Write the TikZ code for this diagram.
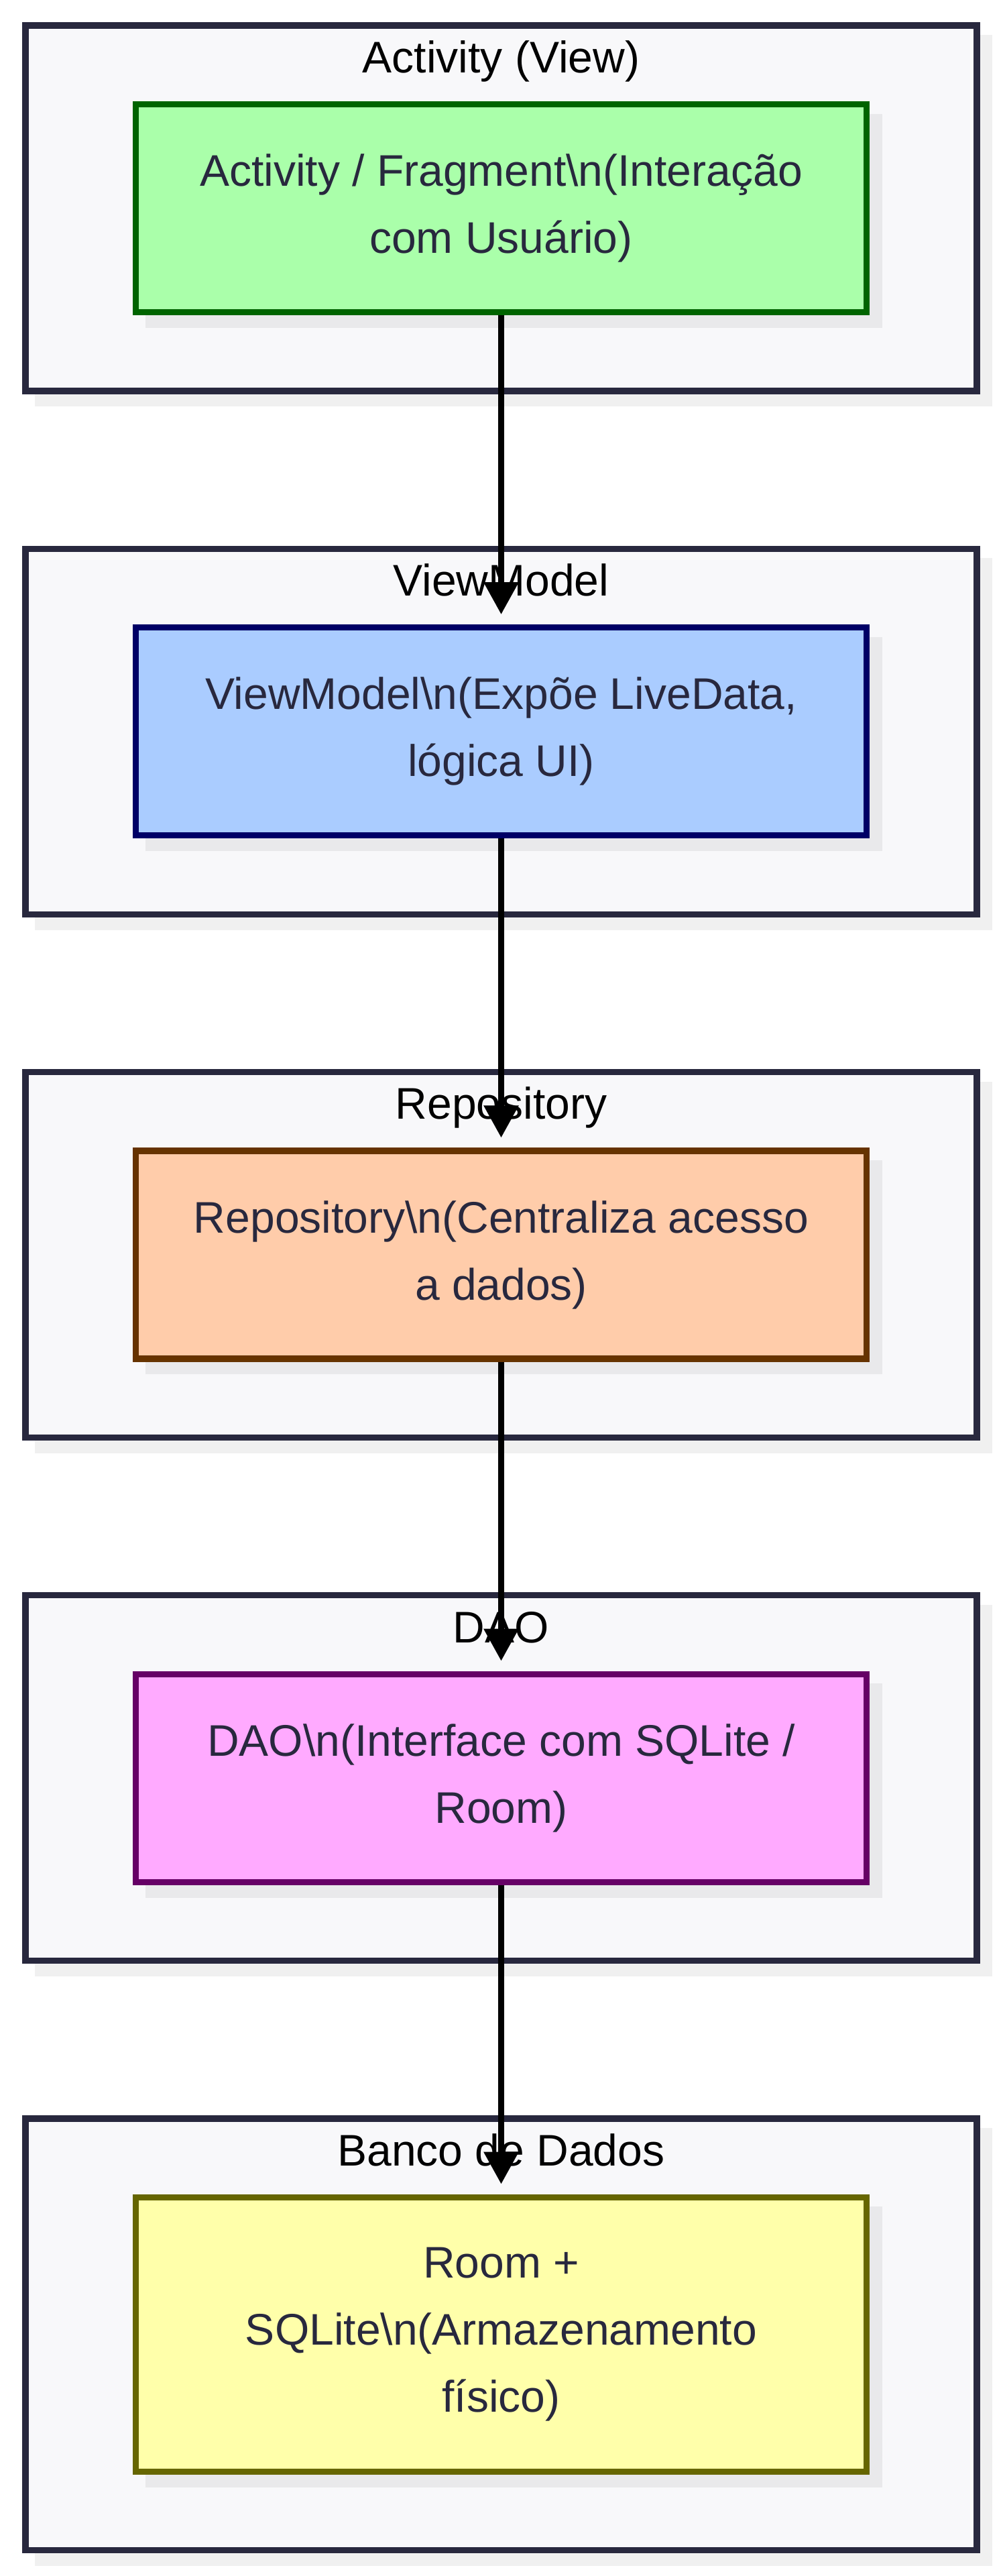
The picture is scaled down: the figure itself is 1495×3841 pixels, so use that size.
\documentclass[tikz,border=0pt]{standalone}
\usepackage{fontspec}
\setmainfont{Liberation Sans}
\usetikzlibrary{arrows.meta,calc,positioning}

\definecolor{ink}{HTML}{28283E}
\definecolor{clusterfill}{HTML}{F8F8FA}
\definecolor{clustershadow}{HTML}{F0F0F0}
\definecolor{blockshadow}{HTML}{E9E9EB}
\definecolor{viewfill}{HTML}{AAFFAA}
\definecolor{viewline}{HTML}{006400}
\definecolor{modelfill}{HTML}{AACCFF}
\definecolor{modelline}{HTML}{000066}
\definecolor{repofill}{HTML}{FFCCAA}
\definecolor{repoline}{HTML}{663300}
\definecolor{daofill}{HTML}{FFAAFF}
\definecolor{daoline}{HTML}{660066}
\definecolor{dbfill}{HTML}{FFFFAA}
\definecolor{dbline}{HTML}{666600}

\begin{document}
\begin{tikzpicture}[x=0.5pt,y=-0.5pt,
  every node/.style={align=center,font=\fontsize{33pt}{50pt}\selectfont},
  cluster/.style={draw=ink,fill=clusterfill,line width=4.65pt,minimum width=709.5pt,minimum height=272.5pt,inner sep=0pt,
    preaction={draw=clustershadow,fill=clustershadow,transform canvas={shift={(9.35pt,-9.35pt)}}}},
  block/.style={draw=#1line,fill=#1fill,text=ink,line width=4.65pt,minimum width=545pt,minimum height=155pt,inner sep=0pt,
    preaction={draw=blockshadow,fill=blockshadow,transform canvas={shift={(9.35pt,-9.35pt)}}}},
  clustertitle/.style={anchor=base,text=black},
  link/.style={-{Triangle[length=24pt,width=25pt]},line width=4.65pt,shorten >=7.5pt}]
\path [fill=white,use as bounding box] (0,0) rectangle (1495,3841);
\node [cluster] (View) at (747.5,310.5) {};
\node [clustertitle] (ViewTitle) at ($(View.north)+(0,75)$) {Activity (View)};
\node [block=view] (ViewBox) at (View) {Activity / Fragment\textbackslash n(Interação\\com Usuário)};
\node [cluster] (Model) at (747.5,1090.75) {};
\node [clustertitle] (ModelTitle) at ($(Model.north)+(0,75)$) {ViewModel};
\node [block=model] (ModelBox) at (Model) {ViewModel\textbackslash n(Expõe LiveData,\\lógica UI)};
\node [cluster] (Repo) at (747.5,1871) {};
\node [clustertitle] (RepoTitle) at ($(Repo.north)+(0,75)$) {Repository};
\node [block=repo] (RepoBox) at (Repo) {Repository\textbackslash n(Centraliza acesso\\a dados)};
\node [cluster] (Dao) at (747.5,2651.25) {};
\node [clustertitle] (DaoTitle) at ($(Dao.north)+(0,75)$) {DAO};
\node [block=dao] (DaoBox) at (Dao) {DAO\textbackslash n(Interface com SQLite /\\Room)};
\node [cluster,minimum height=321.75pt] (Db) at (747.5,3480.75) {};
\node [clustertitle] (DbTitle) at ($(Db.north)+(0,75)$) {Banco de Dados};
\node [block=db,minimum height=204.5pt] (DbBox) at (Db) {Room +\\SQLite\textbackslash n(Armazenamento\\físico)};
\draw [link] (ViewBox) -- (ModelBox);
\draw [link] (ModelBox) -- (RepoBox);
\draw [link] (RepoBox) -- (DaoBox);
\draw [link] (DaoBox) -- (DbBox);
\end{tikzpicture}
\end{document}
